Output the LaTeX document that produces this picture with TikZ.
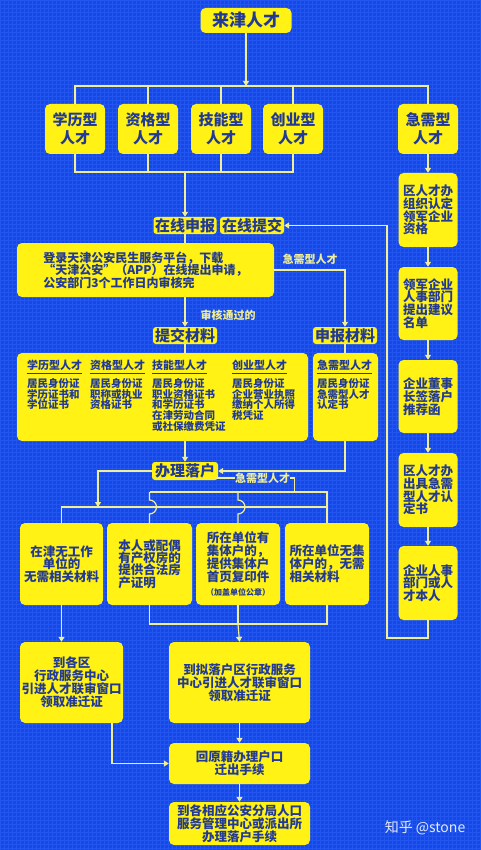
\documentclass[tikz,border=0pt]{standalone}
\usepackage{fontspec}
\setmainfont{Noto Sans CJK SC}
\usetikzlibrary{arrows.meta}
\definecolor{bgblue}{RGB}{22,72,232}
\definecolor{gridblue}{RGB}{34,86,238}
\definecolor{yel}{RGB}{255,242,20}
\definecolor{navy}{RGB}{34,58,150}
\definecolor{lin}{RGB}{240,238,150}
\definecolor{wm}{RGB}{228,234,246}
\newcommand\fsz[2]{\fontsize{#1}{#2}\selectfont\bfseries}
\begin{document}
\begin{tikzpicture}[x=1pt,y=-1pt,
  ybox/.style={fill=yel, rounded corners=5pt, text=navy, inner sep=0pt, align=center},
  tag/.style={fill=yel, rounded corners=3pt, text=navy, inner sep=0pt, align=center, minimum height=17pt, font=\fsz{15}{16}},
  ln/.style={draw=lin, line width=1.2pt},
  ar/.style={ln, -{Triangle[width=6pt,length=5pt]}},
  lbl/.style={text=lin, inner sep=0pt, font=\fsz{11}{12}},
  cell/.style={text=navy, inner sep=0pt, align=left, font=\fsz{10.5}{10.8}},
  hdr/.style={text=navy, inner sep=0pt, font=\fsz{11}{12}}
]
\useasboundingbox (0,0) rectangle (480,850);
\fill[bgblue] (0,0) rectangle (480,850);
\foreach \i in {0,4,...,480} \draw[gridblue, line width=0.5pt] (\i,0) -- (\i,850);
\foreach \j in {0,4,...,850} \draw[gridblue, line width=0.5pt] (0,\j) -- (480,\j);

% top
\node[ybox, minimum width=91pt, minimum height=25pt, font=\fsz{17}{18}] (top) at (246,20.5) {来津人才};
% categories
\node[ybox, minimum width=60pt, minimum height=50pt, font=\fsz{15}{18}] (k1) at (75,129) {学历型\\人才};
\node[ybox, minimum width=60pt, minimum height=50pt, font=\fsz{15}{18}] (k2) at (148,129) {资格型\\人才};
\node[ybox, minimum width=60pt, minimum height=50pt, font=\fsz{15}{18}] (k3) at (221,129) {技能型\\人才};
\node[ybox, minimum width=60pt, minimum height=50pt, font=\fsz{15}{18}] (k4) at (293,129) {创业型\\人才};
\node[ybox, minimum width=60pt, minimum height=50pt, font=\fsz{15}{18}] (k5) at (428,129) {急需型\\人才};

% right column
\node[ybox, align=left, minimum width=59pt, minimum height=74pt, font=\fsz{12.5}{12.8}] (r1) at (428,210) {区人才办\\组织认定\\领军企业\\资格};
\node[ybox, align=left, minimum width=59pt, minimum height=73pt, font=\fsz{12.5}{12.8}] (r2) at (428,303.5) {领军企业\\人事部门\\提出建议\\名单};
\node[ybox, align=left, minimum width=59pt, minimum height=73pt, font=\fsz{12.5}{12.8}] (r3) at (428,396.5) {企业董事\\长签落户\\推荐函};
\node[ybox, align=left, minimum width=59pt, minimum height=74pt, font=\fsz{12.5}{12.8}] (r4) at (428,490) {区人才办\\出具急需\\型人才认\\定书};
\node[ybox, align=left, minimum width=59pt, minimum height=74pt, font=\fsz{12.5}{12.8}] (r5) at (428,583) {企业人事\\部门或人\\才本人};

% online
\node[tag, minimum width=63pt] (zs) at (185,225.5) {在线申报};
\node[tag, minimum width=64pt] (zt) at (252,225.5) {在线提交};
\node[ybox, align=left, minimum width=257pt, minimum height=54pt, font=\fsz{12}{12.6}] (big) at (145.5,270) {登录天津公安民生服务平台，下载\\“天津公安”（APP）在线提出申请，\\公安部门3个工作日内审核完};
\node[lbl] (l1) at (228,315) {审核通过的};
\node[lbl] (l2) at (310,259) {急需型人才};
\node[tag, minimum width=64pt] (tj) at (185,335.5) {提交材料};
\node[tag, minimum width=64pt] (sb) at (345,335.5) {申报材料};

% materials
\node[ybox, minimum width=291pt, minimum height=88pt] (mat) at (162.5,397) {};
\node[ybox, minimum width=65pt, minimum height=88pt] (jm) at (345.5,397) {};
\node[hdr, anchor=west] (h1) at (27,365) {学历型人才};
\node[hdr, anchor=west] (h2) at (90,365) {资格型人才};
\node[hdr, anchor=west] (h3) at (152,365) {技能型人才};
\node[hdr, anchor=west] (h4) at (232,365) {创业型人才};
\node[hdr, anchor=west] (h5) at (317,365) {急需型人才};
\foreach \h in {h1,h2,h3,h4,h5} \draw[navy, line width=0.9pt] ([yshift=-3pt]\h.south west) -- ([yshift=-3pt]\h.south east);
\node[cell, anchor=north west] (m1) at (27,378) {居民身份证\\学历证书和\\学位证书};
\node[cell, anchor=north west] (m2) at (90,378) {居民身份证\\职称或执业\\资格证书};
\node[cell, anchor=north west] (m3) at (152,378) {居民身份证\\职业资格证书\\和学历证书\\在津劳动合同\\或社保缴费凭证};
\node[cell, anchor=north west] (m4) at (232,378) {居民身份证\\企业营业执照\\缴纳个人所得\\税凭证};
\node[cell, anchor=north west] (m5) at (317,378) {居民身份证\\急需型人才\\认定书};

% settle
\node[tag, minimum width=66pt, minimum height=18pt] (bl) at (185,471) {办理落户};
\node[lbl] (l3) at (262.5,478) {急需型人才};

\node[ybox, minimum width=83pt, minimum height=82pt, font=\fsz{12.5}{12.6}] (b1) at (61.5,564) {在津无工作\\单位的\\无需相关材料};
\node[ybox, align=left, minimum width=85pt, minimum height=82pt, font=\fsz{12.5}{12.3}] (b2) at (149.5,564) {本人或配偶\\有产权房的\\提供合法房\\产证明};
\node[ybox, minimum width=84pt, minimum height=82pt, font=\fsz{12.5}{12.3}] (b3) at (238,564) {所在单位有\\集体户的，\\提供集体户\\首页复印件\\[2pt]{\fontsize{8}{9}\selectfont（加盖单位公章）}};
\node[ybox, align=left, minimum width=84pt, minimum height=82pt, font=\fsz{12.5}{12.3}] (b4) at (327,564) {所在单位无集\\体户的，无需\\相关材料};

\node[ybox, minimum width=103pt, minimum height=81pt, font=\fsz{12.5}{13}] (c1) at (71.5,682.5) {到各区\\行政服务中心\\引进人才联审窗口\\领取准迁证};
\node[ybox, minimum width=141pt, minimum height=81pt, font=\fsz{12.5}{13}] (c2) at (239.5,682.5) {到拟落户区行政服务\\中心引进人才联审窗口\\领取准迁证};
\node[ybox, minimum width=141pt, minimum height=41pt, font=\fsz{12.5}{13}] (d1) at (239.5,763.5) {回原籍办理户口\\迁出手续};
\node[ybox, minimum width=141pt, minimum height=43pt, font=\fsz{12.5}{13}] (d2) at (239.5,823.5) {到各相应公安分局人口\\服务管理中心或派出所\\办理落户手续};
\node[text=wm, inner sep=0pt, font=\fontsize{14}{15}\selectfont] (wmk) at (425,828) {知乎 @stone};

% connectors top
\coordinate (bt) at (246,86);
\draw[ar] (top.south) -- (bt);
\draw[ln] (k1.north) -- (k1.north |- bt) -- (k5.north |- bt) -- (k5.north);
\foreach \k in {k2,k3,k4} \draw[ln] (\k.north) -- (\k.north |- bt);
\coordinate (bb) at (185,172);
\draw[ln] (k1.south) |- (bb);
\draw[ln] (k4.south) |- (bb);
\foreach \k in {k2,k3} \draw[ln] (\k.south) -- (\k.south |- bb);
\draw[ar] (bb) -- (zs.north);
\draw[ar] (k5.south) -- (r1.north);
\draw[ar] (r1.south) -- (r2.north);
\draw[ar] (r2.south) -- (r3.north);
\draw[ar] (r3.south) -- (r4.north);
\draw[ar] (r4.south) -- (r5.north);
\coordinate (lp) at (387,638);
\draw[ar] (r5.south) |- (lp) |- (zt.east);

% online flow
\draw[ln] (zs.south) -- (zs.south |- big.north);
\draw[ar] (zs.south |- big.south) -- (tj.north);
\draw[ar] (big.east) -| (sb.north);
\draw[ln] (tj.south) -- (tj.south |- mat.north);
\draw[ln] (sb.south) -- (sb.south |- jm.north);
\draw[ar] (bl.north |- mat.south) -- (bl.north);
\draw[ar] (jm.south -| sb) |- (bl.east);

% settle buses
\coordinate (A1) at (61.5,507);
\coordinate (A2) at (327,507);
\coordinate (B1) at (149.5,492);
\coordinate (B2) at (327,492);
\draw[ar] (bl.west) -| (98,507);
\draw[ln] (b1.north) -- (A1) -- (A2);
\draw[ln] (B1) -- (B2) -- (b4.north);
\draw[ln] (B1) -- (149.5,500) arc[start angle=90, end angle=-90, radius=7pt] -- (b2.north);
\draw[ln] (238,492) -- (238,500) arc[start angle=90, end angle=-90, radius=7pt] -- (b3.north);
\draw[ln] (216,478) -- (l3.west);
\draw[ln] (l3.east) -- ([xshift=4pt]l3.east) -- ([xshift=4pt]l3.east |- B2);

% bottom
\coordinate (M) at (238,624);
\draw[ln] (b2.south) |- (M) -| (b4.south);
\draw[ln] (b3.south) -- (M);
\draw[ar] (M) -- (c2.north);
\draw[ar] (b1.south) -- (b1.south |- c1.north);
\draw[ar] ([xshift=40.5pt]c1.south) |- (d1.west);
\draw[ar] (c2.south) -- (d1.north);
\draw[ar] (d1.south) -- (d2.north);
\end{tikzpicture}
\end{document}
